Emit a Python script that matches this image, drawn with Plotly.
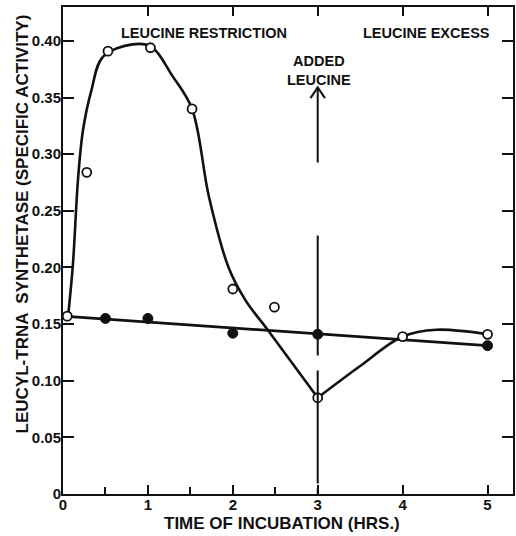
import plotly.graph_objects as go

# Data
open_x = [0.05, 0.28, 0.53, 1.03, 1.52, 2.0, 2.49, 3.0, 4.0, 5.0]
open_y = [0.157, 0.284, 0.391, 0.394, 0.340, 0.181, 0.165, 0.085, 0.139, 0.141]

filled_x = [0.5, 1.0, 2.0, 3.0, 5.0]
filled_y = [0.155, 0.155, 0.142, 0.141, 0.131]

# Hand-drawn guide curve through the open points
curve1_x = [0.06, 0.117, 0.176, 0.235, 0.333, 0.47, 0.82, 1.04, 1.29, 1.52,
            1.72, 1.95, 2.15, 2.41, 3.0]
curve1_y = [0.157, 0.203, 0.277, 0.321, 0.356, 0.386, 0.397, 0.395, 0.369, 0.340,
            0.262, 0.200, 0.171, 0.145, 0.085]
curve2_x = [3.0, 3.5, 4.0, 4.4, 5.0]
curve2_y = [0.085, 0.113, 0.139, 0.145, 0.141]

# Straight line through the filled points
line_x = [0.0, 5.0]
line_y = [0.157, 0.131]

x_ticks = [0, 1, 2, 3, 4, 5]
x_labels = ["0", "1", "2", "3", "4", "5"]
x_minor = [0.5, 1.5, 2.5]
y_ticks = [0, 0.05, 0.10, 0.15, 0.20, 0.25, 0.30, 0.35, 0.40]
y_labels = ["0", "0.05", "0.10", "0.15", "0.20", "0.25", "0.30", "0.35", "0.40"]

FONT = "Liberation Sans"
BLACK = "#111111"

fig = go.Figure()
fig.add_trace(go.Scatter(x=curve1_x, y=curve1_y, mode="lines",
                         line=dict(color=BLACK, width=2.6, shape="spline", smoothing=1.0),
                         hoverinfo="skip", showlegend=False))
fig.add_trace(go.Scatter(x=curve2_x, y=curve2_y, mode="lines",
                         line=dict(color=BLACK, width=2.6, shape="spline", smoothing=1.0),
                         hoverinfo="skip", showlegend=False))
fig.add_trace(go.Scatter(x=line_x, y=line_y, mode="lines",
                         line=dict(color=BLACK, width=2.8),
                         hoverinfo="skip", showlegend=False))
fig.add_trace(go.Scatter(x=filled_x, y=filled_y, mode="markers",
                         marker=dict(size=10, color=BLACK, line=dict(color=BLACK, width=1)),
                         showlegend=False))
fig.add_trace(go.Scatter(x=open_x, y=open_y, mode="markers",
                         marker=dict(size=9, color="white", line=dict(color=BLACK, width=1.8)),
                         showlegend=False))
# invisible trace on the minor-tick axis
fig.add_trace(go.Scatter(x=[0], y=[0], xaxis="x2", mode="markers",
                         marker=dict(size=1, opacity=0), hoverinfo="skip", showlegend=False))

tickfont = dict(family=FONT, size=15, color=BLACK, weight="bold")
fig.update_layout(
    width=516, height=536,
    margin=dict(l=63, r=1, t=7, b=42),
    paper_bgcolor="white", plot_bgcolor="white",
    xaxis=dict(range=[0, 5.3], tickvals=x_ticks, ticktext=x_labels,
               ticks="inside", ticklen=9, tickwidth=2, tickcolor=BLACK,
               showline=True, linewidth=2, linecolor=BLACK, mirror="ticks",
               showgrid=False, zeroline=False, tickfont=tickfont, ticklabelstandoff=-4),
    xaxis2=dict(range=[0, 5.3], overlaying="x", anchor="y", side="bottom",
                tickvals=x_minor, ticks="inside", ticklen=7, tickwidth=2, tickcolor=BLACK,
                showticklabels=False, showline=False, showgrid=False, zeroline=False),
    yaxis=dict(range=[0, 0.43], tickvals=y_ticks, ticktext=y_labels,
               ticks="inside", ticklen=11, tickwidth=2, tickcolor=BLACK,
               showline=True, linewidth=2, linecolor=BLACK, mirror="ticks",
               showgrid=False, zeroline=False, tickfont=tickfont, ticklabelstandoff=-3),
)

annfont = dict(family=FONT, size=14.5, color=BLACK, weight="bold")
fig.add_annotation(x=1.66, y=0.407, text="LEUCINE RESTRICTION", showarrow=False, font=annfont)
fig.add_annotation(x=4.28, y=0.407, text="LEUCINE EXCESS", showarrow=False, font=annfont)
fig.add_annotation(x=3.02, y=0.3735, text="ADDED<br>LEUCINE", showarrow=False, font=annfont)

titlefont = dict(family=FONT, size=17, color=BLACK, weight="bold")
fig.add_annotation(xref="paper", yref="paper", x=0.487, y=-0.0616,
                   text="TIME OF INCUBATION (HRS.)", showarrow=False, font=titlefont,
                   xanchor="center", yanchor="middle")
fig.add_annotation(xref="paper", yref="paper", x=-0.0907, y=0.554,
                   text="LEUCYL-TRNA  SYNTHETASE (SPECIFIC ACTIVITY)", showarrow=False,
                   font=titlefont, textangle=-90, xanchor="center", yanchor="middle")

# dashed arrow marking leucine addition
fig.add_shape(type="line", xref="x", yref="y", x0=3.0, x1=3.0, y0=0.359, y1=0.0,
              line=dict(color=BLACK, width=2, dash="75px,73px,120px,15px,113px,5px,8px"))
fig.add_shape(type="path", xref="x", yref="y",
              path="M 2.915,0.3495 L 3.0,0.359 L 3.085,0.3495",
              line=dict(color=BLACK, width=2))

fig.write_html("out.html", config={"displayModeBar": False},
               post_script="document.body.style.margin='0';")
